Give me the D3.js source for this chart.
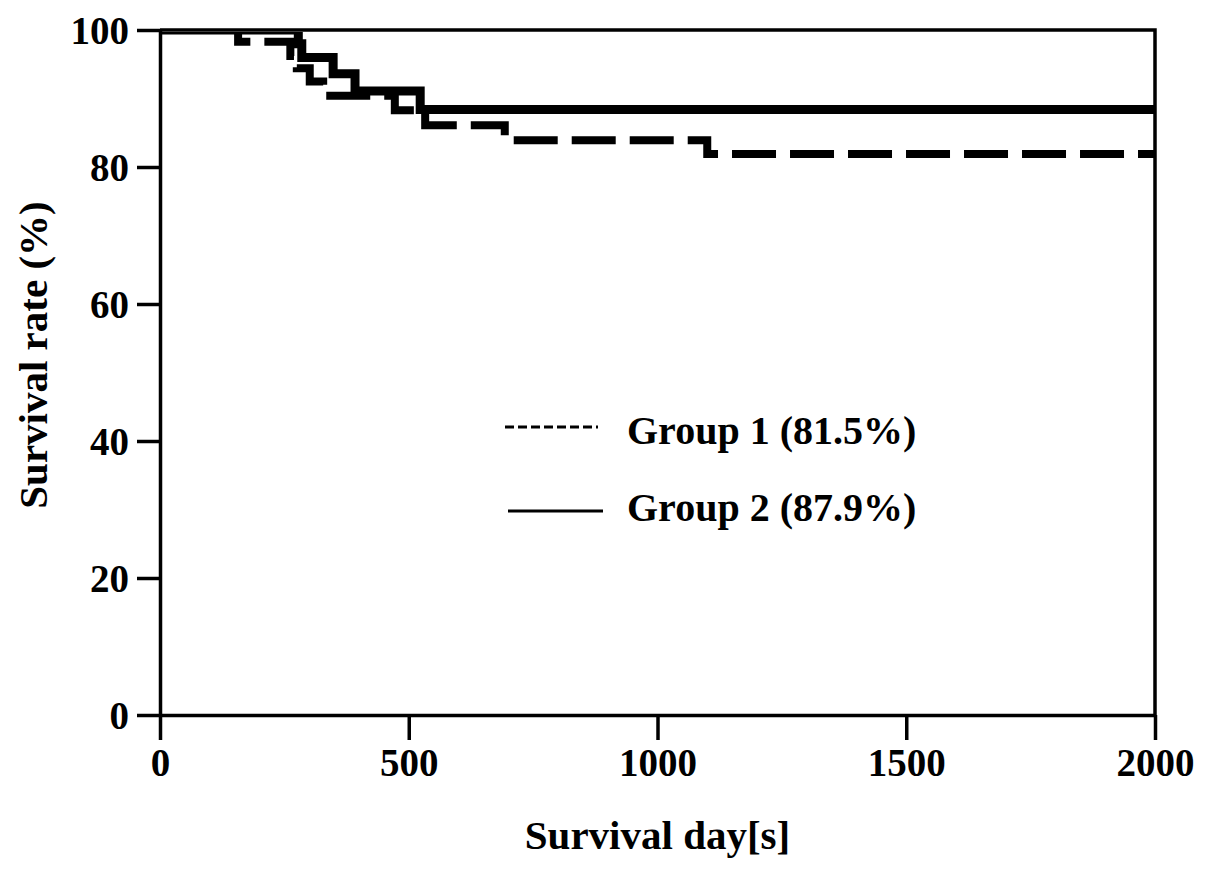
<!DOCTYPE html>
<html>
<head>
<meta charset="utf-8">
<script src="https://cdn.jsdelivr.net/npm/d3@7"></script>
<style>
  body { margin: 0; background: #fff; }
  text { font-family: "Liberation Serif", "Times New Roman", serif; font-weight: bold; fill: #000; }
</style>
</head>
<body>
<div id="main"></div>
<script>
const Width = 1205, Height = 870;

// Kaplan-Meier steps (day, survival %)
const groupOneDays = [0, 157, 262, 275, 301, 328, 472, 533, 693, 1100, 2000];
const groupOneSurv = [100, 98.3, 96.2, 94.4, 92.5, 90.4, 88.3, 86.1, 83.9, 81.9, 81.9];
const groupTwoDays = [0, 278, 285, 348, 392, 523, 2000];
const groupTwoSurv = [100, 98.0, 96.0, 93.6, 91.1, 88.4, 88.4];

const xTicks = [0, 500, 1000, 1500, 2000];
const yTicks = [0, 20, 40, 60, 80, 100];
const legendLabels = ["Group 1 (81.5%)", "Group 2 (87.9%)"];

const margin = {left: 160, top: 30, right: 50, bottom: 155};

const svg = d3.select("#main")
    .append("svg")
    .attr("width", Width)
    .attr("height", Height)
;

let Xscale = d3.scaleLinear().domain([0, 2000]).range([margin.left, Width - margin.right]);
let Yscale = d3.scaleLinear().domain([0, 100]).range([Height - margin.bottom, margin.top]);

// frame (top + right)
svg.append("path")
    .attr("d", `M${Xscale(0)},${Yscale(100)}H${Xscale(2000)}V${Yscale(0)}`)
    .attr("fill", "none").attr("stroke", "#000").attr("stroke-width", 3.5);

const xAxis = svg.append('g')
    .attr('transform', `translate(0, ${Yscale(0)})`)
    .call(d3.axisBottom(Xscale).tickValues(xTicks).tickFormat(d3.format("d"))
        .tickSize(25).tickPadding(8).tickSizeOuter(0));
const yAxis = svg.append('g')
    .attr('transform', `translate(${Xscale(0)},0)`)
    .call(d3.axisLeft(Yscale).tickValues(yTicks).tickFormat(d3.format("d"))
        .tickSize(23).tickPadding(8).tickSizeOuter(0));

[xAxis, yAxis].forEach(a => {
    a.select(".domain").attr("stroke-width", 3.5);
    a.selectAll(".tick line").attr("stroke-width", 3.5);
    a.selectAll("text").attr("font-size", 39).attr("font-family", null);
});
yAxis.selectAll("text").attr("dy", "0.34em");

// curves clipped just below the top frame
svg.append("clipPath").attr("id", "plotclip")
    .append("rect")
    .attr("x", Xscale(0)).attr("y", Yscale(100) + 2)
    .attr("width", Xscale(2000) - Xscale(0)).attr("height", Yscale(0) - Yscale(100));

const line = d3.line()
    .x(d => Xscale(d[0]))
    .y(d => Yscale(d[1]))
    .curve(d3.curveStepAfter);

const g = svg.append("g").attr("clip-path", "url(#plotclip)");
g.append("path")
    .datum(d3.zip(groupTwoDays, groupTwoSurv))
    .attr("d", line)
    .attr("fill", "none").attr("stroke", "#000").attr("stroke-width", 9);
g.append("path")
    .datum(d3.zip(groupOneDays, groupOneSurv))
    .attr("d", line)
    .attr("fill", "none").attr("stroke", "#000").attr("stroke-width", 8)
    .attr("stroke-dasharray", "44,14");

// legend
const legend = svg.append("g");
legend.append("line")
    .attr("x1", 505).attr("x2", 598).attr("y1", 427).attr("y2", 427)
    .attr("stroke", "#000").attr("stroke-width", 3).attr("stroke-dasharray", "9,4");
legend.append("line")
    .attr("x1", 508).attr("x2", 603).attr("y1", 511).attr("y2", 511)
    .attr("stroke", "#000").attr("stroke-width", 3);
legend.selectAll("text").data(legendLabels).enter().append("text")
    .attr("x", 627)
    .attr("y", (d, i) => 444 + i * 77)
    .attr("font-size", 40)
    .text(d => d);

// axis titles
svg.append("text")
    .attr("x", (Xscale(0) + Xscale(2000)) / 2)
    .attr("y", 849)
    .attr("text-anchor", "middle")
    .attr("font-size", 41)
    .text("Survival day[s]");
svg.append("text")
    .attr("transform", "translate(47, 355) rotate(-90)")
    .attr("text-anchor", "middle")
    .attr("font-size", 41)
    .text("Survival rate (%)");
</script>
</body>
</html>
